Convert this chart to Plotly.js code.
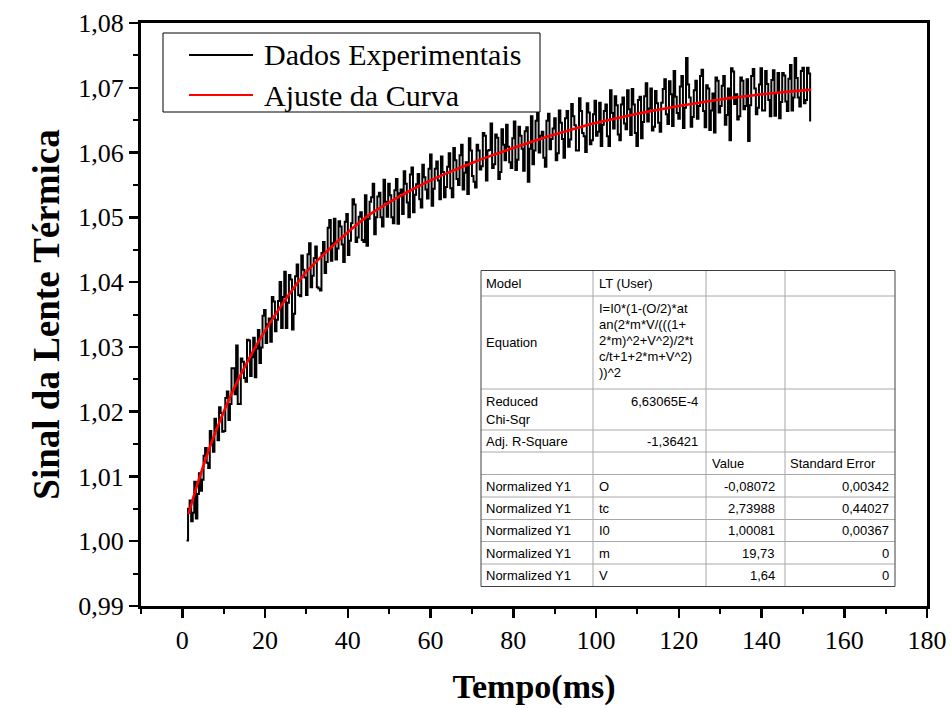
<!DOCTYPE html>
<html>
<head>
<meta charset="utf-8">
<script src="https://cdn.plot.ly/plotly-3.0.1.min.js"></script>
<style>
  html, body { margin: 0; padding: 0; background: #ffffff; }
  #chart { width: 952px; height: 709px; }
</style>
</head>
<body>
<div id="chart"></div>
<script>
// ---------------- data ----------------
const seriesNames = ['Dados Experimentais', 'Ajuste da Curva'];
const seriesColors = ['#000000', '#ff0000'];

// experimental signal, sampled every timeStep ms starting at timeStart ms
const timeStart = 1.0;
const timeStep = 0.375;
const signal = [
  1.0001, 1.0050, 1.0063, 1.0031, 1.0044, 1.0092, 1.0035, 1.0073, 1.0105, 1.0078,
  1.0095, 1.0132, 1.0144, 1.0121, 1.0113, 1.0170, 1.0156, 1.0138, 1.0189, 1.0175,
  1.0156, 1.0207, 1.0198, 1.0169, 1.0170, 1.0221, 1.0231, 1.0187, 1.0212, 1.0267,
  1.0267, 1.0227, 1.0302, 1.0212, 1.0212, 1.0282, 1.0277, 1.0252, 1.0246, 1.0311,
  1.0310, 1.0255, 1.0284, 1.0314, 1.0253, 1.0297, 1.0326, 1.0275, 1.0299, 1.0348,
  1.0357, 1.0306, 1.0335, 1.0344, 1.0308, 1.0377, 1.0370, 1.0324, 1.0342, 1.0371,
  1.0400, 1.0329, 1.0377, 1.0416, 1.0329, 1.0368, 1.0411, 1.0404, 1.0327, 1.0351,
  1.0409, 1.0427, 1.0380, 1.0378, 1.0441, 1.0419, 1.0407, 1.0380, 1.0443, 1.0460,
  1.0392, 1.0410, 1.0437, 1.0455, 1.0392, 1.0390, 1.0387, 1.0445, 1.0462, 1.0414,
  1.0431, 1.0484, 1.0496, 1.0433, 1.0460, 1.0498, 1.0435, 1.0452, 1.0494, 1.0486,
  1.0458, 1.0431, 1.0493, 1.0505, 1.0442, 1.0464, 1.0491, 1.0528, 1.0520, 1.0462,
  1.0469, 1.0501, 1.0508, 1.0465, 1.0462, 1.0534, 1.0456, 1.0498, 1.0524, 1.0531,
  1.0552, 1.0474, 1.0500, 1.0532, 1.0538, 1.0500, 1.0486, 1.0558, 1.0524, 1.0501,
  1.0552, 1.0534, 1.0500, 1.0491, 1.0542, 1.0559, 1.0490, 1.0537, 1.0543, 1.0505,
  1.0571, 1.0552, 1.0523, 1.0500, 1.0566, 1.0577, 1.0508, 1.0535, 1.0551, 1.0567,
  1.0528, 1.0515, 1.0581, 1.0562, 1.0543, 1.0529, 1.0575, 1.0597, 1.0518, 1.0544,
  1.0575, 1.0586, 1.0557, 1.0528, 1.0594, 1.0570, 1.0531, 1.0547, 1.0578, 1.0599,
  1.0545, 1.0531, 1.0607, 1.0588, 1.0559, 1.0550, 1.0596, 1.0612, 1.0543, 1.0569,
  1.0585, 1.0536, 1.0622, 1.0603, 1.0564, 1.0555, 1.0546, 1.0612, 1.0603, 1.0574,
  1.0579, 1.0630, 1.0626, 1.0557, 1.0603, 1.0604, 1.0645, 1.0576, 1.0582, 1.0628,
  1.0623, 1.0559, 1.0570, 1.0636, 1.0612, 1.0588, 1.0643, 1.0609, 1.0585, 1.0576,
  1.0622, 1.0648, 1.0573, 1.0589, 1.0640, 1.0626, 1.0606, 1.0572, 1.0633, 1.0639,
  1.0555, 1.0606, 1.0656, 1.0582, 1.0603, 1.0649, 1.0669, 1.0600, 1.0626, 1.0632,
  1.0592, 1.0578, 1.0649, 1.0660, 1.0605, 1.0621, 1.0637, 1.0653, 1.0588, 1.0599,
  1.0665, 1.0646, 1.0621, 1.0592, 1.0653, 1.0664, 1.0609, 1.0620, 1.0675, 1.0656,
  1.0642, 1.0603, 1.0603, 1.0684, 1.0664, 1.0630, 1.0625, 1.0601, 1.0676, 1.0662,
  1.0613, 1.0619, 1.0659, 1.0680, 1.0626, 1.0632, 1.0677, 1.0610, 1.0643, 1.0664,
  1.0674, 1.0625, 1.0610, 1.0696, 1.0661, 1.0637, 1.0687, 1.0673, 1.0628, 1.0619,
  1.0674, 1.0685, 1.0645, 1.0636, 1.0696, 1.0667, 1.0627, 1.0698, 1.0674, 1.0630,
  1.0610, 1.0681, 1.0686, 1.0622, 1.0647, 1.0687, 1.0707, 1.0648, 1.0668, 1.0699,
  1.0634, 1.0640, 1.0695, 1.0676, 1.0646, 1.0632, 1.0677, 1.0698, 1.0713, 1.0659,
  1.0644, 1.0710, 1.0690, 1.0641, 1.0726, 1.0686, 1.0661, 1.0652, 1.0702, 1.0718,
  1.0638, 1.0669, 1.0746, 1.0705, 1.0685, 1.0640, 1.0655, 1.0696, 1.0711, 1.0652,
  1.0672, 1.0718, 1.0728, 1.0664, 1.0639, 1.0704, 1.0699, 1.0635, 1.0665, 1.0691,
  1.0631, 1.0716, 1.0711, 1.0662, 1.0672, 1.0703, 1.0718, 1.0643, 1.0658, 1.0699,
  1.0619, 1.0730, 1.0725, 1.0675, 1.0690, 1.0651, 1.0656, 1.0716, 1.0711, 1.0667,
  1.0672, 1.0713, 1.0618, 1.0673, 1.0718, 1.0729, 1.0699, 1.0659, 1.0669, 1.0705,
  1.0730, 1.0665, 1.0665, 1.0726, 1.0706, 1.0681, 1.0656, 1.0712, 1.0727, 1.0657,
  1.0692, 1.0723, 1.0653, 1.0678, 1.0723, 1.0719, 1.0679, 1.0664, 1.0714, 1.0735,
  1.0665, 1.0685, 1.0746, 1.0715, 1.0685, 1.0671, 1.0726, 1.0731, 1.0676, 1.0681,
  1.0731, 1.0722, 1.0648
];

// fitted curve
const fitTime = [1.5, 3, 5, 7.5, 10, 12.5, 15, 17.5, 20, 22.5, 25, 27.5, 30, 35, 40, 45,
  50, 55, 60, 65, 70, 75, 80, 85, 90, 95, 100, 105, 110, 115, 120, 125, 130, 135, 140,
  145, 150, 152];
const fitValue = [1.0042, 1.0075, 1.0115, 1.0160, 1.0200, 1.0236, 1.0268, 1.0298, 1.0325,
  1.0350, 1.0374, 1.0396, 1.0416, 1.0448, 1.0477, 1.0503, 1.0523, 1.0541, 1.0557, 1.0571,
  1.0584, 1.0596, 1.0607, 1.0618, 1.0628, 1.0637, 1.0646, 1.0653, 1.0660, 1.0666, 1.0672,
  1.0677, 1.0682, 1.0686, 1.0690, 1.0693, 1.0696, 1.0697];

// fit-result table text
const tableRows = [
  ['Model', 'LT (User)'],
  ['Equation', ['I=I0*(1-(O/2)*at', 'an(2*m*V/(((1+', '2*m)^2+V^2)/2*t', 'c/t+1+2*m+V^2)', '))^2']],
  [['Reduced', 'Chi-Sqr'], '6,63065E-4'],
  ['Adj. R-Square', '-1,36421']
];
const tableHeader = ['', '', 'Value', 'Standard Error'];
const paramRowLabel = 'Normalized Y1';
const paramNames = ['O', 'tc', 'I0', 'm', 'V'];
const paramValues = ['-0,08072', '2,73988', '1,00081', '19,73', '1,64'];
const paramErrors = ['0,00342', '0,44027', '0,00367', '0', '0'];

const xTitle = 'Tempo(ms)';
const yTitle = 'Sinal da Lente Térmica';

// ---------------- layout helpers ----------------
const W = 952, H = 709;
const M = { l: 141, r: 25, t: 23, b: 103 };
const PW = W - M.l - M.r, PH = H - M.t - M.b;
const px = x => (x - M.l) / PW;
const py = y => 1 - (y - M.t) / PH;

const shapes = [];
const annotations = [];

// legend box (Origin style, long line samples)
shapes.push({ type: 'rect', xref: 'paper', yref: 'paper', x0: px(163), x1: px(540), y0: py(33), y1: py(112),
  line: { color: '#000', width: 1 }, fillcolor: '#fff', layer: 'above' });
const legendY = [55, 95];
seriesNames.forEach((nm, i) => {
  shapes.push({ type: 'line', xref: 'paper', yref: 'paper', x0: px(189), x1: px(253), y0: py(legendY[i]), y1: py(legendY[i]),
    line: { color: seriesColors[i], width: 2 }, layer: 'above' });
  annotations.push({ xref: 'paper', yref: 'paper', x: px(262), y: py(legendY[i]), xanchor: 'left', yanchor: 'middle',
    text: nm, showarrow: false, font: { family: 'Liberation Serif, Times New Roman, serif', size: 30, color: '#000' } });
});

// table
const colX = [481, 593, 706, 785, 895];
const rowY = [270.5, 296, 389, 430, 452, 474.5, 497, 519.5, 541.5, 564, 586.5];
shapes.push({ type: 'rect', xref: 'paper', yref: 'paper', x0: px(colX[0]), x1: px(colX[4]), y0: py(rowY[0]), y1: py(rowY[rowY.length - 1]),
  line: { width: 0 }, fillcolor: '#fff', layer: 'above' });
for (let i = 1; i < colX.length - 1; i++) {
  shapes.push({ type: 'line', xref: 'paper', yref: 'paper', x0: px(colX[i]), x1: px(colX[i]), y0: py(rowY[0]), y1: py(rowY[rowY.length - 1]),
    line: { color: '#a8a8a8', width: 1 }, layer: 'above' });
}
for (let j = 1; j < rowY.length - 1; j++) {
  shapes.push({ type: 'line', xref: 'paper', yref: 'paper', x0: px(colX[0]), x1: px(colX[4]), y0: py(rowY[j]), y1: py(rowY[j]),
    line: { color: '#a8a8a8', width: 1 }, layer: 'above' });
}
shapes.push({ type: 'rect', xref: 'paper', yref: 'paper', x0: px(colX[0]), x1: px(colX[4]), y0: py(rowY[0]), y1: py(rowY[rowY.length - 1]),
  line: { color: '#404040', width: 1 }, fillcolor: 'rgba(0,0,0,0)', layer: 'above' });

const tFont = { family: 'Liberation Sans, Arial, sans-serif', size: 13, color: '#000' };
function tText(text, x, y, anchor) {
  annotations.push({ xref: 'paper', yref: 'paper', x: px(x), y: py(y), xanchor: anchor, yanchor: 'middle',
    text: text, showarrow: false, font: tFont });
}
tText(tableRows[0][0], 484, 283, 'left');
tText(tableRows[0][1], 597, 283, 'left');
tText(tableRows[1][0], 484, 342, 'left');
const eqY = [308, 324, 340, 356, 372];
tableRows[1][1].forEach((ln, k) => tText(ln, 597, eqY[k], 'left'));
tText(tableRows[2][0][0], 484, 401, 'left');
tText(tableRows[2][0][1], 484, 419, 'left');
tText(tableRows[2][1], 700, 401, 'right');
tText(tableRows[3][0], 484, 441, 'left');
tText(tableRows[3][1], 700, 441, 'right');
tText(tableHeader[2], 710, 463, 'left');
tText(tableHeader[3], 788, 463, 'left');
const pY = [486, 508, 530.5, 553, 575];
paramNames.forEach((p, k) => {
  tText(paramRowLabel, 484, pY[k], 'left');
  tText(p, 597, pY[k], 'left');
  tText(paramValues[k], 777, pY[k], 'right');
  tText(paramErrors[k], 891, pY[k], 'right');
});

// ---------------- traces ----------------
const traces = [
  { type: 'scatter', mode: 'lines', name: seriesNames[0], x0: timeStart, dx: timeStep, y: signal,
    line: { color: seriesColors[0], width: 2, shape: 'hv' }, showlegend: false },
  { type: 'scatter', mode: 'lines', name: seriesNames[1], x: fitTime, y: fitValue,
    line: { color: seriesColors[1], width: 2.6, shape: 'spline' }, showlegend: false }
];

const tickFont = { family: 'Liberation Serif, Times New Roman, serif', size: 26, color: '#000' };
const titleFont = { family: 'Liberation Serif, Times New Roman, serif', size: 34, color: '#000', weight: 'bold' };

const layout = {
  width: W, height: H,
  margin: M,
  paper_bgcolor: '#fff', plot_bgcolor: '#fff',
  separators: ',.',
  showlegend: false,
  xaxis: {
    range: [-10, 180], tick0: 0, dtick: 20, tickmode: 'linear',
    showgrid: false, zeroline: false,
    showline: true, linecolor: '#000', linewidth: 3, mirror: true,
    ticks: 'outside', ticklen: 9, tickwidth: 2.5, tickcolor: '#000',
    minor: { dtick: 10, tick0: 0, ticks: 'outside', ticklen: 5, tickwidth: 2, tickcolor: '#000', showgrid: false },
    tickfont: tickFont,
    title: { text: '<b>' + xTitle + '</b>', font: titleFont, standoff: 20 },
    automargin: false
  },
  yaxis: {
    range: [0.99, 1.08], tick0: 0.99, dtick: 0.01, tickmode: 'linear', tickformat: '.2f',
    showgrid: false, zeroline: false,
    showline: true, linecolor: '#000', linewidth: 3, mirror: true,
    ticks: 'outside', ticklen: 9, tickwidth: 2.5, tickcolor: '#000',
    minor: { dtick: 0.005, tick0: 0.99, ticks: 'outside', ticklen: 5, tickwidth: 2, tickcolor: '#000', showgrid: false },
    tickfont: tickFont,
    title: { text: '<b>' + yTitle + '</b>', font: Object.assign({}, titleFont, { size: 37 }), standoff: 8 },
    automargin: false
  },
  shapes: shapes,
  annotations: annotations
};

Plotly.newPlot('chart', traces, layout, { staticPlot: true, displayModeBar: false });
</script>
</body>
</html>
